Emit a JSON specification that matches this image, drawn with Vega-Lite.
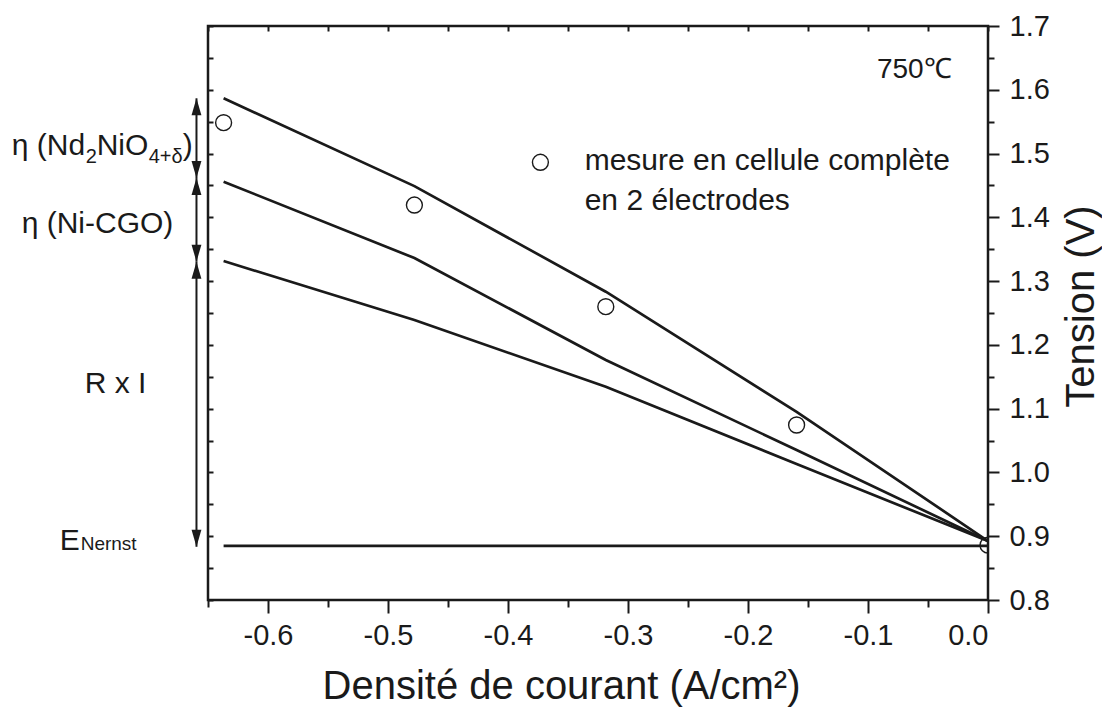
{
  "$schema": "https://vega.github.io/schema/vega-lite/v6.json",
  "width": 780,
  "height": 574,
  "autosize": {"type": "none"},
  "padding": {"left": 208, "top": 26, "right": 114, "bottom": 113},
  "background": "white",
  "config": {
    "font": "Liberation Sans",
    "view": {"stroke": "#1a1a1a", "strokeWidth": 2.5},
    "axis": {"grid": false, "domain": false, "tickColor": "#1a1a1a", "tickWidth": 2, "labelColor": "#1a1a1a", "labelFont": "Liberation Sans", "titleFont": "Liberation Sans", "titleColor": "#1a1a1a", "titleFontWeight": "normal"}
  },
  "datasets": {
    "lines": [
      {"series": "top", "x": -0.637, "y": 1.5866},
      {"series": "top", "x": -0.478, "y": 1.449},
      {"series": "top", "x": -0.3185, "y": 1.2834},
      {"series": "top", "x": -0.1595, "y": 1.095},
      {"series": "top", "x": 0, "y": 0.8925},
      {"series": "mid", "x": -0.637, "y": 1.4559},
      {"series": "mid", "x": -0.478, "y": 1.3362},
      {"series": "mid", "x": -0.3185, "y": 1.1763},
      {"series": "mid", "x": -0.1595, "y": 1.0352},
      {"series": "mid", "x": 0, "y": 0.8925},
      {"series": "bottom", "x": -0.637, "y": 1.3315},
      {"series": "bottom", "x": -0.478, "y": 1.239},
      {"series": "bottom", "x": -0.3185, "y": 1.1344},
      {"series": "bottom", "x": -0.1595, "y": 1.0132},
      {"series": "bottom", "x": 0, "y": 0.8925},
      {"series": "nernst", "x": -0.637, "y": 0.885},
      {"series": "nernst", "x": 0, "y": 0.885}
    ],
    "measures": [
      {"x": -0.637, "y": 1.5484},
      {"x": -0.478, "y": 1.4193},
      {"x": -0.3185, "y": 1.2599},
      {"x": -0.1595, "y": 1.0744},
      {"x": 0, "y": 0.886}
    ],
    "legendSymbol": [{"x": -0.373, "y": 1.4863}],
    "arrows": [
      {"x": -0.6596, "y": 1.5866, "y2": 1.4616},
      {"x": -0.6596, "y": 1.4616, "y2": 1.3304},
      {"x": -0.6596, "y": 1.3304, "y2": 0.8836}
    ],
    "heads": [
      {"x": -0.6596, "y": 1.5866, "dir": "up"},
      {"x": -0.6596, "y": 1.4616, "dir": "down"},
      {"x": -0.6596, "y": 1.4616, "dir": "up"},
      {"x": -0.6596, "y": 1.3304, "dir": "down"},
      {"x": -0.6596, "y": 1.3304, "dir": "up"},
      {"x": -0.6596, "y": 0.8836, "dir": "down"}
    ],
    "bigText": [
      {"x": -0.8136, "y": 1.4977, "t": "η"},
      {"x": -0.7927, "y": 1.4977, "t": "(Nd"},
      {"x": -0.7428, "y": 1.4977, "t": "NiO"},
      {"x": -0.6711, "y": 1.4977, "t": ")"},
      {"x": -0.8053, "y": 1.3754, "t": "η (Ni-CGO)"},
      {"x": -0.7528, "y": 1.1246, "t": "R x I"},
      {"x": -0.7736, "y": 0.8784, "t": "E"},
      {"x": -0.3361, "y": 1.4742, "t": "mesure en cellule complète"},
      {"x": -0.3361, "y": 1.4115, "t": "en 2 électrodes"}
    ],
    "subText": [
      {"x": -0.7519, "y": 1.4852, "t": "2"},
      {"x": -0.6994, "y": 1.4852, "t": "4+δ"}
    ],
    "nernstText": [{"x": -0.7561, "y": 0.8784, "t": "Nernst"}],
    "tempText": [{"x": -0.0303, "y": 1.6184, "t": "750℃"}]
  },
  "layer": [
    {
      "data": {"name": "lines"},
      "mark": {"type": "line", "color": "#1a1a1a", "strokeWidth": 2.7, "clip": true},
      "encoding": {
        "x": {
          "field": "x", "type": "quantitative",
          "scale": {"domain": [-0.65, 0], "nice": false, "zero": false},
          "axis": {
            "orient": "bottom",
            "values": [-0.65, -0.6, -0.55, -0.5, -0.45, -0.4, -0.35, -0.3, -0.25, -0.2, -0.15, -0.1, -0.05, 0],
            "labelExpr": "abs(datum.value*10 - round(datum.value*10)) < 0.001 ? (datum.value < -0.01 ? '-' : '') + format(abs(datum.value), '.1f') : ''",
            "tickSize": {"condition": {"test": "abs(datum.value*10 - round(datum.value*10)) < 0.001", "value": 13}, "value": 7},
            "labelFontSize": 29,
            "labelPadding": 8,
            "title": "Densité de courant (A/cm²)",
            "titleFontSize": 40,
            "titleX": 353,
            "titleY": 98,
            "titleBaseline": "alphabetic"
          }
        },
        "y": {
          "field": "y", "type": "quantitative",
          "scale": {"domain": [0.8, 1.7], "nice": false, "zero": false},
          "axis": {
            "orient": "right",
            "values": [0.8, 0.85, 0.9, 0.95, 1.0, 1.05, 1.1, 1.15, 1.2, 1.25, 1.3, 1.35, 1.4, 1.45, 1.5, 1.55, 1.6, 1.65, 1.7],
            "labelExpr": "abs(datum.value*10 - round(datum.value*10)) < 0.001 ? format(datum.value, '.1f') : ''",
            "tickSize": {"condition": {"test": "abs(datum.value*10 - round(datum.value*10)) < 0.001", "value": 11}, "value": 6},
            "labelFontSize": 29,
            "labelPadding": 10,
            "title": "Tension (V)",
            "titleFontSize": 40,
            "titleAngle": 270,
            "titleX": 105,
            "titleY": 280,
            "titleBaseline": "alphabetic"
          }
        },
        "detail": {"field": "series"},
        "order": {"field": "x"}
      }
    },
    {
      "data": {"name": "measures"},
      "mark": {"type": "point", "shape": "circle", "filled": false, "stroke": "#1a1a1a", "strokeWidth": 1.4, "size": 254, "clip": true, "opacity": 1},
      "encoding": {
        "x": {"field": "x", "type": "quantitative", "axis": {"orient": "top", "values": [-0.65, -0.6, -0.55, -0.5, -0.45, -0.4, -0.35, -0.3, -0.25, -0.2, -0.15, -0.1, -0.05, 0], "labels": false, "tickSize": 5, "offset": -5, "title": null}},
        "y": {"field": "y", "type": "quantitative", "axis": {"orient": "left", "values": [0.8, 0.85, 0.9, 0.95, 1.0, 1.05, 1.1, 1.15, 1.2, 1.25, 1.3, 1.35, 1.4, 1.45, 1.5, 1.55, 1.6, 1.65, 1.7], "labels": false, "tickSize": 5, "offset": -5, "title": null}}
      }
    },
    {
      "data": {"name": "legendSymbol"},
      "mark": {"type": "point", "shape": "circle", "filled": false, "stroke": "#1a1a1a", "strokeWidth": 1.4, "size": 254, "opacity": 1},
      "encoding": {
        "x": {"field": "x", "type": "quantitative", "axis": null},
        "y": {"field": "y", "type": "quantitative", "axis": null}
      }
    },
    {
      "data": {"name": "arrows"},
      "mark": {"type": "rule", "color": "#1a1a1a", "strokeWidth": 2},
      "encoding": {
        "x": {"field": "x", "type": "quantitative", "axis": null},
        "y": {"field": "y", "type": "quantitative", "axis": null},
        "y2": {"field": "y2"}
      }
    },
    {
      "data": {"name": "heads"},
      "mark": {"type": "point", "filled": true, "color": "#1a1a1a", "size": 289, "opacity": 1, "strokeWidth": 0},
      "encoding": {
        "x": {"field": "x", "type": "quantitative", "axis": null},
        "y": {"field": "y", "type": "quantitative", "axis": null},
        "shape": {"field": "dir", "type": "nominal", "scale": {"domain": ["up", "down"], "range": ["M0,0L0.58,2L-0.58,2Z", "M0,0L0.58,-2L-0.58,-2Z"]}, "legend": null}
      }
    },
    {
      "data": {"name": "bigText"},
      "mark": {"type": "text", "fontSize": 30, "align": "left", "baseline": "alphabetic", "color": "#1a1a1a", "font": "Liberation Sans"},
      "encoding": {
        "x": {"field": "x", "type": "quantitative", "axis": null},
        "y": {"field": "y", "type": "quantitative", "axis": null},
        "text": {"field": "t"}
      }
    },
    {
      "data": {"name": "subText"},
      "mark": {"type": "text", "fontSize": 20, "align": "left", "baseline": "alphabetic", "color": "#1a1a1a", "font": "Liberation Sans"},
      "encoding": {
        "x": {"field": "x", "type": "quantitative", "axis": null},
        "y": {"field": "y", "type": "quantitative", "axis": null},
        "text": {"field": "t"}
      }
    },
    {
      "data": {"name": "nernstText"},
      "mark": {"type": "text", "fontSize": 19, "align": "left", "baseline": "alphabetic", "color": "#1a1a1a", "font": "Liberation Sans"},
      "encoding": {
        "x": {"field": "x", "type": "quantitative", "axis": null},
        "y": {"field": "y", "type": "quantitative", "axis": null},
        "text": {"field": "t"}
      }
    },
    {
      "data": {"name": "tempText"},
      "mark": {"type": "text", "fontSize": 28, "align": "right", "baseline": "alphabetic", "color": "#1a1a1a", "font": "Liberation Sans"},
      "encoding": {
        "x": {"field": "x", "type": "quantitative", "axis": null},
        "y": {"field": "y", "type": "quantitative", "axis": null},
        "text": {"field": "t"}
      }
    }
  ],
  "resolve": {"axis": {"x": "independent", "y": "independent"}}
}
